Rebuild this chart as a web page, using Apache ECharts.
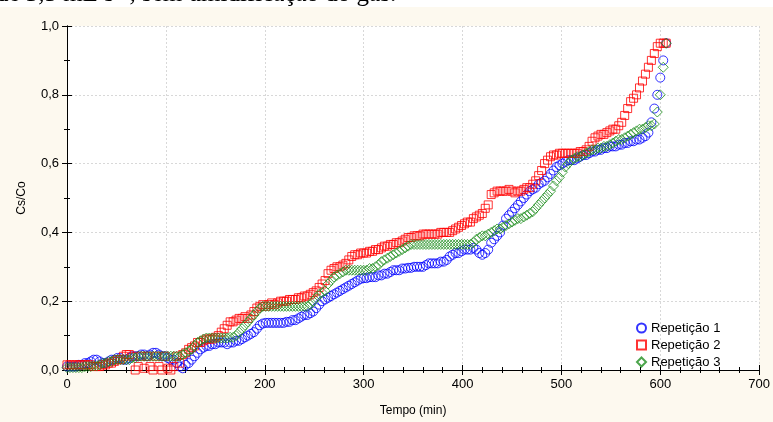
<!DOCTYPE html>
<html>
<head>
<meta charset="utf-8">
<script src="https://cdn.jsdelivr.net/npm/echarts@6/dist/echarts.min.js"></script>
<style>
  html, body { margin: 0; padding: 0; background: #fdf9ef; }
  #chart { width: 773px; height: 422px; }
</style>
</head>
<body>
<div id="chart"></div>
<script>
// tempo (min), one reading every 3 min
const tempo = [
  0, 3, 6, 9, 12, 15, 18, 21, 24, 27,
  30, 33, 36, 39, 42, 45, 48, 51, 54, 57,
  60, 63, 66, 69, 72, 75, 78, 81, 84, 87,
  90, 93, 96, 99, 102, 105, 108, 111, 114, 117,
  120, 123, 126, 129, 132, 135, 138, 141, 144, 147,
  150, 153, 156, 159, 162, 165, 168, 171, 174, 177,
  180, 183, 186, 189, 192, 195, 198, 201, 204, 207,
  210, 213, 216, 219, 222, 225, 228, 231, 234, 237,
  240, 243, 246, 249, 252, 255, 258, 261, 264, 267,
  270, 273, 276, 279, 282, 285, 288, 291, 294, 297,
  300, 303, 306, 309, 312, 315, 318, 321, 324, 327,
  330, 333, 336, 339, 342, 345, 348, 351, 354, 357,
  360, 363, 366, 369, 372, 375, 378, 381, 384, 387,
  390, 393, 396, 399, 402, 405, 408, 411, 414, 417,
  420, 423, 426, 429, 432, 435, 438, 441, 444, 447,
  450, 453, 456, 459, 462, 465, 468, 471, 474, 477,
  480, 483, 486, 489, 492, 495, 498, 501, 504, 507,
  510, 513, 516, 519, 522, 525, 528, 531, 534, 537,
  540, 543, 546, 549, 552, 555, 558, 561, 564, 567,
  570, 573, 576, 579, 582, 585, 588, 591, 594, 597,
  600, 603, 606
];

// Cs/Co - Repetição 1
const rep1 = [
  0.01, 0.01, 0.01, 0.01, 0.015, 0.015, 0.02, 0.02, 0.025, 0.03,
  0.03, 0.025, 0.02, 0.02, 0.025, 0.03, 0.03, 0.035, 0.035, 0.03,
  0.03, 0.035, 0.04, 0.04, 0.04, 0.045, 0.045, 0.04, 0.045, 0.05,
  0.05, 0.045, 0.04, 0.04, 0.035, 0.03, 0.03, 0.02, 0.01, 0.005,
  0.015, 0.02, 0.03, 0.04, 0.05, 0.06, 0.065, 0.07, 0.07, 0.075,
  0.075, 0.08, 0.08, 0.08, 0.075, 0.08, 0.08, 0.085, 0.085, 0.09,
  0.095, 0.1, 0.105, 0.11, 0.12, 0.13, 0.135, 0.137, 0.137, 0.137,
  0.137, 0.137, 0.137, 0.137, 0.14, 0.14, 0.145, 0.145, 0.15, 0.155,
  0.16, 0.16, 0.165, 0.17, 0.18, 0.19, 0.2, 0.205, 0.21, 0.215,
  0.22, 0.225, 0.23, 0.235, 0.24, 0.245, 0.25, 0.255, 0.26, 0.265,
  0.267, 0.267, 0.27, 0.27, 0.27, 0.275, 0.275, 0.28, 0.28, 0.285,
  0.29, 0.29, 0.29, 0.295, 0.295, 0.297, 0.297, 0.3, 0.3, 0.3,
  0.3, 0.305, 0.31, 0.31, 0.31, 0.31, 0.315, 0.315, 0.32, 0.33,
  0.335, 0.34, 0.34, 0.345, 0.35, 0.35, 0.35, 0.355, 0.35, 0.34,
  0.335, 0.34, 0.35, 0.37, 0.38, 0.39, 0.4, 0.42, 0.44, 0.45,
  0.46, 0.47, 0.48, 0.49, 0.5, 0.51, 0.52, 0.525, 0.53, 0.54,
  0.545, 0.55, 0.56, 0.57, 0.58, 0.59, 0.595, 0.6, 0.605, 0.61,
  0.61, 0.61, 0.615, 0.62, 0.625, 0.625, 0.63, 0.635, 0.635, 0.64,
  0.64, 0.645, 0.645, 0.65, 0.65, 0.65, 0.655, 0.655, 0.66, 0.66,
  0.665, 0.665, 0.67, 0.67, 0.675, 0.68, 0.69, 0.72, 0.76, 0.8,
  0.85, 0.9, 0.95
];

// Cs/Co - Repetição 2
const rep2 = [
  0.015, 0.015, 0.015, 0.015, 0.015, 0.015, 0.015, 0.015, 0.015, 0.01,
  0.01, 0.01, 0.015, 0.015, 0.02, 0.02, 0.025, 0.03, 0.03, 0.04,
  0.045, 0.045, 0.04, 0.0, 0.01, 0.04, 0.005, 0.04, 0.01, 0.0,
  0.04, 0.01, 0.0, 0.04, 0.005, 0.0, 0.01, 0.04, 0.02, 0.045,
  0.05, 0.06, 0.065, 0.07, 0.08, 0.08, 0.085, 0.09, 0.09, 0.09,
  0.095, 0.1, 0.11, 0.12, 0.13, 0.14, 0.14, 0.145, 0.15, 0.15,
  0.155, 0.15, 0.16, 0.17, 0.18, 0.185, 0.19, 0.185, 0.19, 0.195,
  0.19, 0.195, 0.2, 0.2, 0.2, 0.205, 0.205, 0.205, 0.21, 0.21,
  0.215, 0.215, 0.22, 0.225, 0.23, 0.24, 0.25, 0.26, 0.28, 0.29,
  0.295, 0.3, 0.3, 0.305, 0.31, 0.32, 0.33, 0.335, 0.335, 0.34,
  0.34, 0.34, 0.345, 0.345, 0.35, 0.35, 0.355, 0.36, 0.36, 0.365,
  0.365, 0.37, 0.37, 0.375, 0.38, 0.385, 0.385, 0.39, 0.39, 0.39,
  0.395, 0.395, 0.395, 0.395, 0.395, 0.395, 0.4, 0.4, 0.4, 0.4,
  0.405, 0.41, 0.415, 0.42, 0.425, 0.43, 0.43, 0.44, 0.445, 0.45,
  0.455, 0.47, 0.48, 0.51, 0.515, 0.52, 0.52, 0.52, 0.52, 0.525,
  0.52, 0.515, 0.52, 0.52, 0.525, 0.53, 0.53, 0.54, 0.55, 0.565,
  0.58, 0.6, 0.61, 0.62, 0.625, 0.625, 0.63, 0.63, 0.63, 0.63,
  0.63, 0.63, 0.63, 0.635, 0.635, 0.64, 0.65, 0.665, 0.675, 0.68,
  0.685, 0.685, 0.69, 0.695, 0.7, 0.7, 0.71, 0.72, 0.74, 0.76,
  0.78, 0.79, 0.8, 0.82, 0.84, 0.86, 0.88, 0.9, 0.92, 0.94,
  0.95, 0.95, 0.95
];

// Cs/Co - Repetição 3
const rep3 = [
  0.007, 0.007, 0.007, 0.007, 0.007, 0.007, 0.01, 0.01, 0.01, 0.012,
  0.012, 0.015, 0.02, 0.02, 0.025, 0.025, 0.03, 0.03, 0.03, 0.03,
  0.03, 0.03, 0.035, 0.035, 0.04, 0.04, 0.04, 0.04, 0.04, 0.04,
  0.04, 0.04, 0.04, 0.04, 0.04, 0.04, 0.04, 0.04, 0.04, 0.045,
  0.05, 0.055, 0.06, 0.07, 0.08, 0.085, 0.09, 0.093, 0.093, 0.093,
  0.093, 0.093, 0.093, 0.093, 0.093, 0.095, 0.095, 0.1, 0.11, 0.12,
  0.13, 0.14, 0.15, 0.16, 0.17, 0.18, 0.185, 0.185, 0.185, 0.185,
  0.185, 0.185, 0.185, 0.185, 0.185, 0.185, 0.185, 0.185, 0.185, 0.185,
  0.185, 0.185, 0.19, 0.2, 0.21, 0.22, 0.225, 0.23, 0.25, 0.26,
  0.27, 0.275, 0.28, 0.285, 0.29, 0.29, 0.29, 0.29, 0.29, 0.29,
  0.29, 0.29, 0.295, 0.295, 0.3, 0.305, 0.315, 0.32, 0.325, 0.33,
  0.335, 0.34, 0.345, 0.35, 0.355, 0.36, 0.365, 0.365, 0.365, 0.365,
  0.365, 0.365, 0.365, 0.365, 0.365, 0.365, 0.365, 0.365, 0.365, 0.365,
  0.365, 0.365, 0.365, 0.365, 0.365, 0.365, 0.365, 0.37, 0.38, 0.385,
  0.39, 0.39, 0.395, 0.4, 0.405, 0.41, 0.41, 0.415, 0.42, 0.425,
  0.43, 0.435, 0.44, 0.44, 0.445, 0.45, 0.455, 0.46, 0.47, 0.48,
  0.49, 0.5, 0.51, 0.52, 0.535, 0.55, 0.56, 0.575, 0.59, 0.6,
  0.61, 0.615, 0.62, 0.62, 0.625, 0.63, 0.635, 0.64, 0.64, 0.645,
  0.645, 0.65, 0.65, 0.655, 0.66, 0.665, 0.67, 0.67, 0.675, 0.68,
  0.685, 0.69, 0.695, 0.7, 0.7, 0.705, 0.71, 0.71, 0.715, 0.75,
  0.8, 0.88, 0.95
];

const seriesNames = ['Repetição 1', 'Repetição 2', 'Repetição 3'];
const seriesColors = ['#0000ff', '#ff0000', '#1f8f1f'];
const seriesSymbols = ['circle', 'rect', 'diamond'];
const seriesSizes = [9, 8, 10];

const chart = echarts.init(document.getElementById('chart'));

const font = 'Liberation Sans, Arial, sans-serif';
const frameLine = { show: true, lineStyle: { color: '#000', width: 1 } };
const ticksIn = { show: true, inside: true, length: 5, lineStyle: { color: '#000' } };
const minorIn = { show: true, length: 3, lineStyle: { color: '#000' } };

function pairs(values) {
  return tempo.map((t, i) => [t, values[i]]);
}

const option = {
  backgroundColor: '#fdf9ef',
  animation: false,
  textStyle: { fontFamily: font },
  grid: {
    left: 67, right: 12, top: 26, bottom: 52,
    show: true, backgroundColor: '#ffffff', borderWidth: 0
  },
  graphic: [
    { type: 'rect', shape: { x: 0, y: 0, width: 773, height: 7 }, style: { fill: '#ffffff' }, z: 10 },
    {
      type: 'text', x: -4, y: 7, z: 11,
      style: {
        text: 'de 3,5 mL s⁻¹, sem umidificação do gás.',
        font: '25px "Liberation Serif", "Times New Roman", serif',
        fill: '#000', verticalAlign: 'bottom'
      }
    }
  ],
  legend: {
    orient: 'vertical',
    left: 631, top: 316,
    itemWidth: 9, itemHeight: 9, itemGap: 3,
    textStyle: { fontSize: 13, color: '#000', fontFamily: font, lineHeight: 14 },
    data: seriesNames
  },
  xAxis: [
    {
      type: 'value', min: 0, max: 700, interval: 100,
      name: 'Tempo (min)', nameLocation: 'middle', nameGap: 35,
      nameTextStyle: { fontSize: 12, color: '#000' },
      axisLine: frameLine, axisTick: ticksIn,
      minorTick: Object.assign({ splitNumber: 5 }, minorIn),
      axisLabel: { fontSize: 13, color: '#000', margin: 8 },
      splitLine: { show: true, lineStyle: { color: '#d8d8d8', type: [2, 2] } }
    },
    {
      type: 'value', position: 'top', min: 0, max: 700, interval: 100,
      axisLine: frameLine, axisTick: ticksIn,
      minorTick: Object.assign({ splitNumber: 5 }, minorIn),
      axisLabel: { show: false }, splitLine: { show: false }
    }
  ],
  yAxis: [
    {
      type: 'value', min: 0, max: 1, interval: 0.2,
      name: 'Cs/Co', nameLocation: 'middle', nameGap: 39,
      nameTextStyle: { fontSize: 12, color: '#000' },
      axisLine: frameLine, axisTick: ticksIn,
      minorTick: Object.assign({ splitNumber: 2 }, minorIn),
      axisLabel: {
        fontSize: 13, color: '#000', margin: 8,
        formatter: v => v.toFixed(1).replace('.', ',')
      },
      splitLine: { show: true, lineStyle: { color: '#d8d8d8', type: [2, 2] } }
    },
    {
      type: 'value', position: 'right', min: 0, max: 1, interval: 0.2,
      axisLine: frameLine, axisTick: ticksIn,
      minorTick: Object.assign({ splitNumber: 2 }, minorIn),
      axisLabel: { show: false }, splitLine: { show: false }
    }
  ],
  series: [rep1, rep2, rep3].map((vals, k) => ({
    name: seriesNames[k],
    type: 'scatter',
    symbol: seriesSymbols[k],
    symbolSize: seriesSizes[k],
    data: pairs(vals),
    itemStyle: { color: 'rgba(255,255,255,0)', borderColor: seriesColors[k], borderWidth: 1 },
    emphasis: { disabled: true },
    z: 3 + k
  }))
};

chart.setOption(option);
</script>
</body>
</html>
